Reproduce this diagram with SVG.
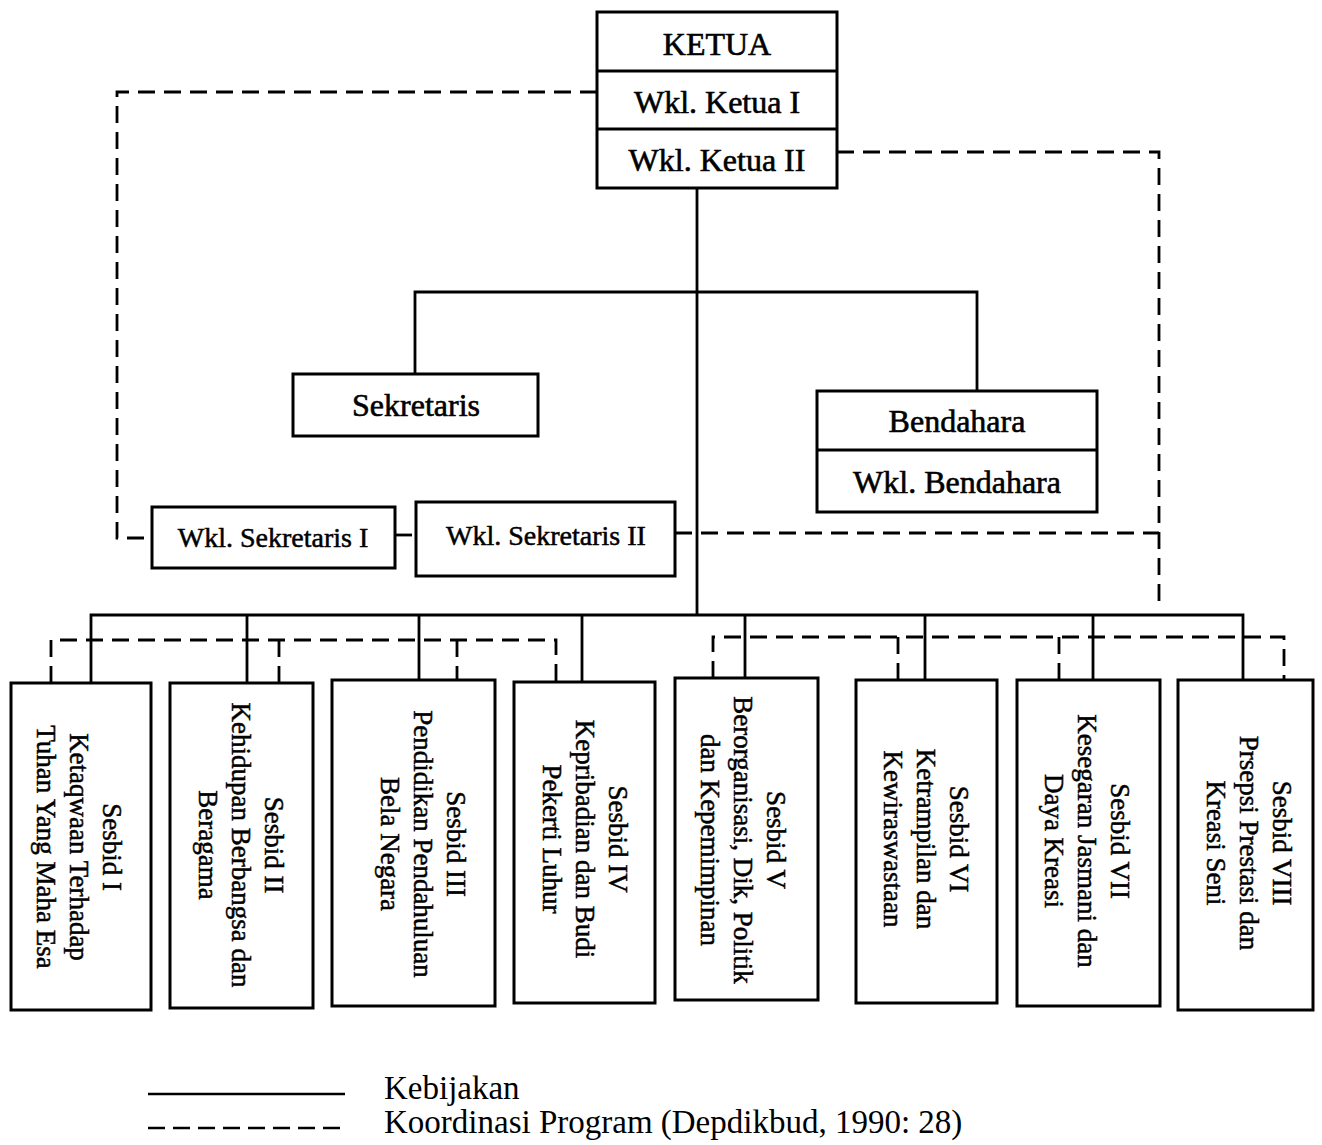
<svg xmlns="http://www.w3.org/2000/svg" width="1322" height="1145" viewBox="0 0 1322 1145">
<style>
.box{fill:#fff;stroke:#000;stroke-width:3}
.div{stroke:#000;stroke-width:3}
.sol{fill:none;stroke:#000;stroke-width:2.8}
.dash{fill:none;stroke:#000;stroke-width:2.8;stroke-dasharray:17 9}
text{font-family:"Liberation Serif","Times New Roman",serif;fill:#000}
.t32{font-size:32px;text-anchor:middle;stroke:#000;stroke-width:0.6}
.t28{font-size:28px;text-anchor:middle;stroke:#000;stroke-width:0.5}
.v{font-size:27px;text-anchor:middle;stroke:#000;stroke-width:0.5}
.leg{font-size:33px}
</style>
<rect width="1322" height="1145" fill="#fff"/>
<g id="connectors">
<path class="sol" d="M697 188V615M415 374V292H977V391M91 683V615H1243V680M247 615V683M419 615V680M582 615V682M745 615V678M925 615V680M1093 615V680"/>
<path class="dash" d="M597 92H117V538H152"/>
<path class="dash" d="M395 535H416"/>
<path class="dash" d="M675 533H1159"/>
<path class="dash" d="M837 152H1159V607"/>
<path class="dash" d="M51 683V640H556V682M279 640V683M457 640V680"/>
<path class="dash" d="M713 678V637H1284V680M898 637V680M1059 637V680"/>
</g>
<g id="ketua">
<rect class="box" x="597" y="12" width="240" height="176"/>
<line class="div" x1="597" y1="71" x2="837" y2="71"/>
<line class="div" x1="597" y1="129" x2="837" y2="129"/>
<text class="t32" x="717" y="55">KETUA</text>
<text class="t32" x="717" y="113">Wkl. Ketua I</text>
<text class="t32" x="717" y="171">Wkl. Ketua II</text>
</g>
<g id="sekretaris">
<rect class="box" x="293" y="374" width="245" height="62"/>
<text class="t32" x="416" y="416">Sekretaris</text>
</g>
<g id="bendahara">
<rect class="box" x="817" y="391" width="280" height="121"/>
<line class="div" x1="817" y1="450" x2="1097" y2="450"/>
<text class="t32" x="957" y="432">Bendahara</text>
<text class="t32" x="957" y="493">Wkl. Bendahara</text>
</g>
<g id="wkl-sekretaris-1">
<rect class="box" x="152" y="507" width="243" height="61"/>
<text class="t28" x="273" y="547">Wkl. Sekretaris I</text>
</g>
<g id="wkl-sekretaris-2">
<rect class="box" x="416" y="502" width="259" height="74"/>
<text class="t28" x="546" y="545">Wkl. Sekretaris II</text>
</g>
<g id="sesbid-1">
<rect class="box" x="11" y="683" width="140" height="327"/>
<g transform="translate(79 847) rotate(90)">
<text class="v" x="0" y="-24">Sesbid I</text>
<text class="v" x="0" y="9">Ketaqwaan Terhadap</text>
<text class="v" x="0" y="42">Tuhan Yang Maha Esa</text>
</g>
</g>
<g id="sesbid-2">
<rect class="box" x="170" y="683" width="143" height="325"/>
<g transform="translate(241 845) rotate(90)">
<text class="v" x="0" y="-24">Sesbid II</text>
<text class="v" x="0" y="9">Kehidupan Berbangsa dan</text>
<text class="v" x="0" y="42">Beragama</text>
</g>
</g>
<g id="sesbid-3">
<rect class="box" x="332" y="680" width="163" height="326"/>
<g transform="translate(423 844) rotate(90)">
<text class="v" x="0" y="-24">Sesbid III</text>
<text class="v" x="0" y="9">Pendidikan Pendahuluan</text>
<text class="v" x="0" y="42">Bela Negara</text>
</g>
</g>
<g id="sesbid-4">
<rect class="box" x="514" y="682" width="141" height="321"/>
<g transform="translate(585 839) rotate(90)">
<text class="v" x="0" y="-24">Sesbid IV</text>
<text class="v" x="0" y="9">Kepribadian dan Budi</text>
<text class="v" x="0" y="42">Pekerti Luhur</text>
</g>
</g>
<g id="sesbid-5">
<rect class="box" x="675" y="678" width="143" height="322"/>
<g transform="translate(743 840) rotate(90)">
<text class="v" x="0" y="-24">Sesbid V</text>
<text class="v" x="0" y="9">Berorganisasi, Dik, Politik</text>
<text class="v" x="0" y="42">dan Kepemimpinan</text>
</g>
</g>
<g id="sesbid-6">
<rect class="box" x="856" y="680" width="141" height="323"/>
<g transform="translate(926 839) rotate(90)">
<text class="v" x="0" y="-24">Sesbid VI</text>
<text class="v" x="0" y="9">Ketrampilan dan</text>
<text class="v" x="0" y="42">Kewiraswastaan</text>
</g>
</g>
<g id="sesbid-7">
<rect class="box" x="1017" y="680" width="143" height="326"/>
<g transform="translate(1087 841) rotate(90)">
<text class="v" x="0" y="-24">Sesbid VII</text>
<text class="v" x="0" y="9">Kesegaran Jasmani dan</text>
<text class="v" x="0" y="42">Daya Kreasi</text>
</g>
</g>
<g id="sesbid-8">
<rect class="box" x="1178" y="680" width="135" height="330"/>
<g transform="translate(1249 843) rotate(90)">
<text class="v" x="0" y="-24">Sesbid VIII</text>
<text class="v" x="0" y="9">Prsepsi Prestasi dan</text>
<text class="v" x="0" y="42">Kreasi Seni</text>
</g>
</g>
<g id="legend">
<line x1="148" y1="1094" x2="345" y2="1094" stroke="#000" stroke-width="2.6"/>
<line x1="148" y1="1128" x2="345" y2="1128" stroke="#000" stroke-width="2.6" stroke-dasharray="17 8"/>
<text class="leg" x="384" y="1099">Kebijakan</text>
<text class="leg" x="384" y="1133">Koordinasi Program (Depdikbud, 1990: 28)</text>
</g>
</svg>
